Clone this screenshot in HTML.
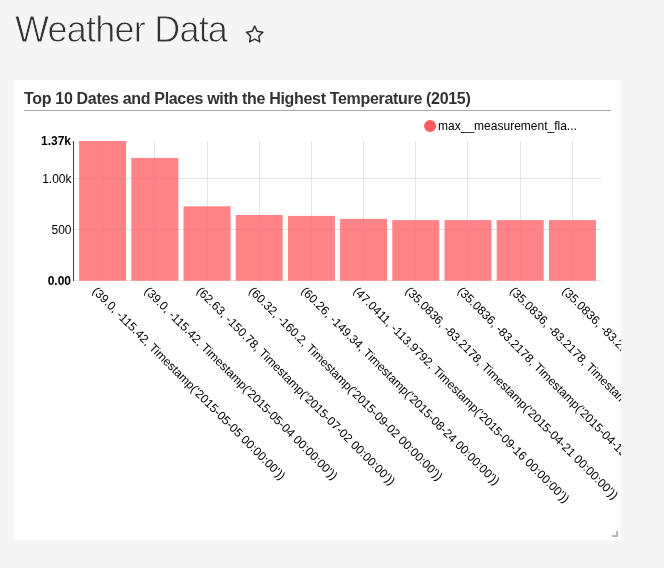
<!DOCTYPE html>
<html><head><meta charset="utf-8"><style>
html,body{margin:0;padding:0;}
body{width:664px;height:568px;background:#f5f5f5;position:relative;overflow:hidden;font-family:"Liberation Sans",sans-serif;}
#title{position:absolute;left:14.5px;top:6px;font-size:36px;letter-spacing:-0.78px;line-height:48px;color:#333;-webkit-text-stroke:0.8px #f5f5f5;will-change:transform;white-space:nowrap;}
#star{position:absolute;left:0;top:0;}
#card{position:absolute;left:14px;top:80px;width:607px;height:460px;background:#fff;overflow:hidden;}
#ctitle{will-change:transform;position:absolute;left:10px;top:9.5px;font-size:16px;letter-spacing:-0.32px;font-weight:bold;color:#333;white-space:nowrap;line-height:18px;}
#uline{position:absolute;left:10px;top:30px;width:587px;height:1px;background:#aaa;}
#chart{will-change:transform;position:absolute;left:-14px;top:-80px;}
#chart text{font-family:"Liberation Sans",sans-serif;font-size:12px;fill:#000;}
.g{stroke:#e5e5e5;stroke-width:1;shape-rendering:crispEdges;}
.b{fill:#ff5a5f;fill-opacity:.75;}
.ax{stroke:#000;stroke-opacity:.75;stroke-width:1;shape-rendering:crispEdges;}
#rh{position:absolute;right:3px;bottom:3px;width:6px;height:6px;border-right:2px solid #b8b8b8;border-bottom:2px solid #b8b8b8;box-sizing:border-box;}
</style></head><body>
<div id="title">Weather Data</div>
<svg id="star" width="664" height="80"><path d="M254.70,26.15 L257.26,31.33 L262.97,32.16 L258.84,36.19 L259.81,41.89 L254.70,39.20 L249.59,41.89 L250.56,36.19 L246.43,32.16 L252.14,31.33 Z" fill="none" stroke="#333" stroke-width="1.5" stroke-linejoin="round"/></svg>
<div id="card">
<div id="ctitle">Top 10 Dates and Places with the Highest Temperature (2015)</div>
<div id="uline"></div>
<svg id="chart" width="664" height="568">
<line x1="102.61" y1="141" x2="102.61" y2="281" class="g"/>
<line x1="154.81" y1="141" x2="154.81" y2="281" class="g"/>
<line x1="207.01" y1="141" x2="207.01" y2="281" class="g"/>
<line x1="259.21" y1="141" x2="259.21" y2="281" class="g"/>
<line x1="311.41" y1="141" x2="311.41" y2="281" class="g"/>
<line x1="363.61" y1="141" x2="363.61" y2="281" class="g"/>
<line x1="415.81" y1="141" x2="415.81" y2="281" class="g"/>
<line x1="467.9" y1="141" x2="467.9" y2="281" class="g"/>
<line x1="520.21" y1="141" x2="520.21" y2="281" class="g"/>
<line x1="572.41" y1="141" x2="572.41" y2="281" class="g"/>
<line x1="73.9" y1="280.5" x2="601.1" y2="280.5" class="g"/>
<line x1="73.9" y1="229.5" x2="601.1" y2="229.5" class="g"/>
<line x1="73.9" y1="178.5" x2="601.1" y2="178.5" class="g"/>
<rect x="79.12" y="141.00" width="46.98" height="139.70" class="b"/>
<rect x="131.32" y="157.9" width="46.98" height="122.8" class="b"/>
<rect x="183.52" y="206.30" width="46.98" height="74.40" class="b"/>
<rect x="235.72" y="214.99" width="46.98" height="65.71" class="b"/>
<rect x="287.92" y="215.92" width="46.98" height="64.78" class="b"/>
<rect x="340.12" y="218.88" width="46.98" height="61.82" class="b"/>
<rect x="392.32" y="220.11" width="46.98" height="60.59" class="b"/>
<rect x="444.52" y="220.11" width="46.98" height="60.59" class="b"/>
<rect x="496.72" y="220.11" width="46.98" height="60.59" class="b"/>
<rect x="548.92" y="220.11" width="46.98" height="60.59" class="b"/>
<line x1="73.5" y1="141" x2="73.5" y2="281" class="ax"/>
<text x="71.5" y="234.07" text-anchor="end">500</text>
<text x="71.5" y="182.90" text-anchor="end">1.00k</text>
<text x="71" y="145.1" text-anchor="end" font-weight="bold">1.37k</text>
<text x="71" y="284.8" text-anchor="end" font-weight="bold">0.00</text>
<g transform="translate(102.61,280.70)"><text transform="rotate(45)" x="0" y="7" dy=".71em">(39.0, -115.42, Timestamp(&#39;2015-05-05 00:00:00&#39;))</text></g>
<g transform="translate(154.81,280.70)"><text transform="rotate(45)" x="0" y="7" dy=".71em">(39.0, -115.42, Timestamp(&#39;2015-05-04 00:00:00&#39;))</text></g>
<g transform="translate(207.01,280.70)"><text transform="rotate(45)" x="0" y="7" dy=".71em">(62.63, -150.78, Timestamp(&#39;2015-07-02 00:00:00&#39;))</text></g>
<g transform="translate(259.21,280.70)"><text transform="rotate(45)" x="0" y="7" dy=".71em">(60.32, -160.2, Timestamp(&#39;2015-09-02 00:00:00&#39;))</text></g>
<g transform="translate(311.41,280.70)"><text transform="rotate(45)" x="0" y="7" dy=".71em">(60.26, -149.34, Timestamp(&#39;2015-08-24 00:00:00&#39;))</text></g>
<g transform="translate(363.61,280.70)"><text transform="rotate(45)" x="0" y="7" dy=".71em">(47.0411, -113.9792, Timestamp(&#39;2015-09-16 00:00:00&#39;))</text></g>
<g transform="translate(415.81,280.70)"><text transform="rotate(45)" x="0" y="7" dy=".71em">(35.0836, -83.2178, Timestamp(&#39;2015-04-21 00:00:00&#39;))</text></g>
<g transform="translate(468.01,280.70)"><text transform="rotate(45)" x="0" y="7" dy=".71em">(35.0836, -83.2178, Timestamp(&#39;2015-04-13 00:00:00&#39;))</text></g>
<g transform="translate(520.21,280.70)"><text transform="rotate(45)" x="0" y="7" dy=".71em">(35.0836, -83.2178, Timestamp(&#39;2015-04-14 00:00:00&#39;))</text></g>
<g transform="translate(572.41,280.70)"><text transform="rotate(45)" x="0" y="7" dy=".71em">(35.0836, -83.2178, Timestamp(&#39;2015-04-15 00:00:00&#39;))</text></g>
<circle cx="430.1" cy="126" r="5" fill="#ff5a5f" stroke="#ff5a5f" stroke-width="2"/>
<text x="438.1" y="129.84">max__measurement_fla...</text>
</svg>
<div id="rh"></div>
</div>
</body></html>
